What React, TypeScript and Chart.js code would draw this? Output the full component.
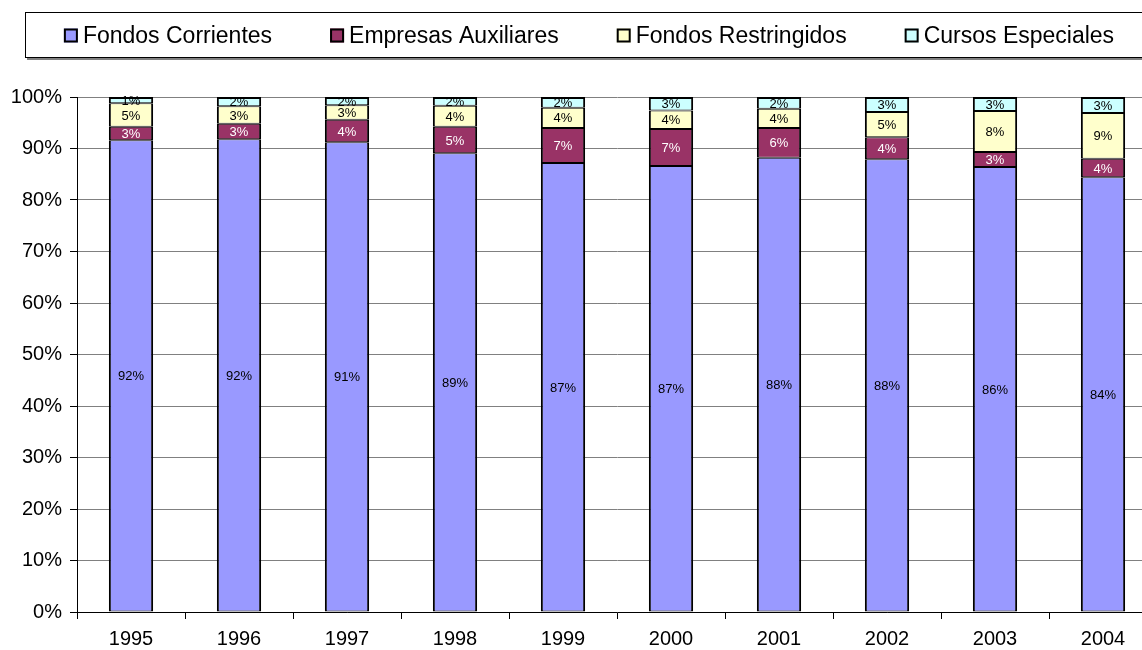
import React, { useEffect, useRef } from 'react';
import { Chart, registerables } from 'chart.js';

Chart.register(...registerables);

const years = ['1995', '1996', '1997', '1998', '1999', '2000', '2001', '2002', '2003', '2004'];
const fondosCorrientes = [91.6, 91.8, 91.2, 89.1, 87.2, 86.6, 88.2, 87.9, 86.4, 84.4];
const empresasAuxiliares = [2.6, 3.0, 4.4, 5.1, 6.8, 7.2, 5.8, 4.3, 2.9, 3.6];
const fondosRestringidos = [4.6, 3.4, 2.8, 4.1, 3.9, 3.6, 3.7, 4.9, 8.0, 8.9];
const cursosEspeciales = [1.2, 1.8, 1.6, 1.7, 2.1, 2.6, 2.3, 2.9, 2.7, 3.1];
const seriesNames = ['Fondos Corrientes', 'Empresas Auxiliares', 'Fondos Restringidos', 'Cursos Especiales'];
const seriesColors = ['#9999FF', '#993366', '#FFFFCC', '#CCFFFF'];
const labelColors = ['#000000', '#FFFFFF', '#000000', '#000000'];
const yTicks = [0, 10, 20, 30, 40, 50, 60, 70, 80, 90, 100];

const FONT = '"Liberation Sans", Arial, sans-serif';

const legendPlugin = {
  id: 'boxLegend',
  afterDraw(chart: any) {
    const ctx = chart.ctx;
    ctx.save();
    ctx.fillStyle = '#808080';
    ctx.fillRect(27, 58, 1200, 2);
    ctx.strokeStyle = '#000';
    ctx.lineWidth = 1;
    ctx.fillStyle = '#fff';
    ctx.fillRect(25.5, 12.5, 1200, 45);
    ctx.strokeRect(25.5, 12.5, 1200, 45);
    ctx.font = `23px ${FONT}`;
    ctx.textBaseline = 'middle';
    const ds = chart.data.datasets;
    const box = 14, gapText = 5, gapItem = 58;
    const widths = ds.map((d: any) => box + gapText + ctx.measureText(d.label).width);
    const total = widths.reduce((a: number, b: number) => a + b, 0) + gapItem * (ds.length - 1);
    let x = 589 - total / 2;
    const cy = 35.5;
    ds.forEach((d: any, i: number) => {
      ctx.fillStyle = d.backgroundColor;
      ctx.fillRect(x, cy - 7, box, box);
      ctx.lineWidth = 2;
      ctx.strokeStyle = '#000';
      ctx.strokeRect(x + 1, cy - 6, box - 2, box - 2);
      ctx.fillStyle = '#000';
      ctx.textAlign = 'left';
      ctx.fillText(d.label, x + box + gapText, cy + 1);
      x += widths[i] + gapItem;
    });
    ctx.restore();
  },
};

const dataLabelPlugin = {
  id: 'segLabels',
  afterDatasetsDraw(chart: any) {
    const ctx = chart.ctx;
    ctx.save();
    ctx.font = `13px ${FONT}`;
    ctx.textAlign = 'center';
    ctx.textBaseline = 'middle';
    chart.data.datasets.forEach((d: any, di: number) => {
      const meta = chart.getDatasetMeta(di);
      meta.data.forEach((el: any, i: number) => {
        const v = d.data[i];
        ctx.fillStyle = labelColors[di];
        ctx.fillText(Math.round(v) + '%', el.x, (el.y + el.base) / 2 + 1);
      });
    });
    ctx.restore();
  },
};

export default function App() {
  const ref = useRef<HTMLCanvasElement | null>(null);
  useEffect(() => {
    if (!ref.current) return;
    const series = [fondosCorrientes, empresasAuxiliares, fondosRestringidos, cursosEspeciales];
    const chart = new Chart(ref.current, {
      type: 'bar',
      data: {
        labels: years,
        datasets: series.map((s, i) => ({
          label: seriesNames[i],
          data: s,
          backgroundColor: seriesColors[i],
          borderColor: '#000000',
          borderWidth: { top: i === series.length - 1 ? 2 : 1, bottom: 1, left: 2, right: 2 },
          borderSkipped: false,
          barPercentage: 0.41,
          categoryPercentage: 1.0,
        })),
      },
      options: {
        responsive: false,
        animation: false,
        devicePixelRatio: 1,
        layout: { padding: { top: 97, right: 13, left: 0, bottom: 0 } },
        plugins: { legend: { display: false }, tooltip: { enabled: false } },
        scales: {
          x: {
            stacked: true,
            afterFit: (s: any) => { s.height = 38; },
            grid: { offset: true, drawOnChartArea: false, color: '#000', tickLength: 7 },
            border: { color: '#000', width: 1 },
            ticks: { color: '#000', font: { family: FONT, size: 20 }, padding: 8, maxRotation: 0 },
          },
          y: {
            stacked: true,
            min: 0,
            max: 100,
            afterFit: (s: any) => { s.width = 77; },
            afterBuildTicks: (s: any) => { s.ticks = yTicks.map((v) => ({ value: v })); },
            grid: { color: '#808080', tickColor: '#000', tickLength: 7 },
            border: { color: '#000', width: 1 },
            ticks: {
              color: '#000',
              font: { family: FONT, size: 20 },
              padding: 8,
              callback: (v: any) => v + '%',
            },
          },
        },
      },
      plugins: [legendPlugin, dataLabelPlugin],
    });
    return () => chart.destroy();
  }, []);
  return (
    <div style={{ position: 'fixed', left: 0, top: 0, width: 1142, height: 650, overflow: 'hidden', background: '#fff' }}>
      <canvas ref={ref} width={1170} height={650} style={{ width: 1170, height: 650, display: 'block' }} />
    </div>
  );
}
